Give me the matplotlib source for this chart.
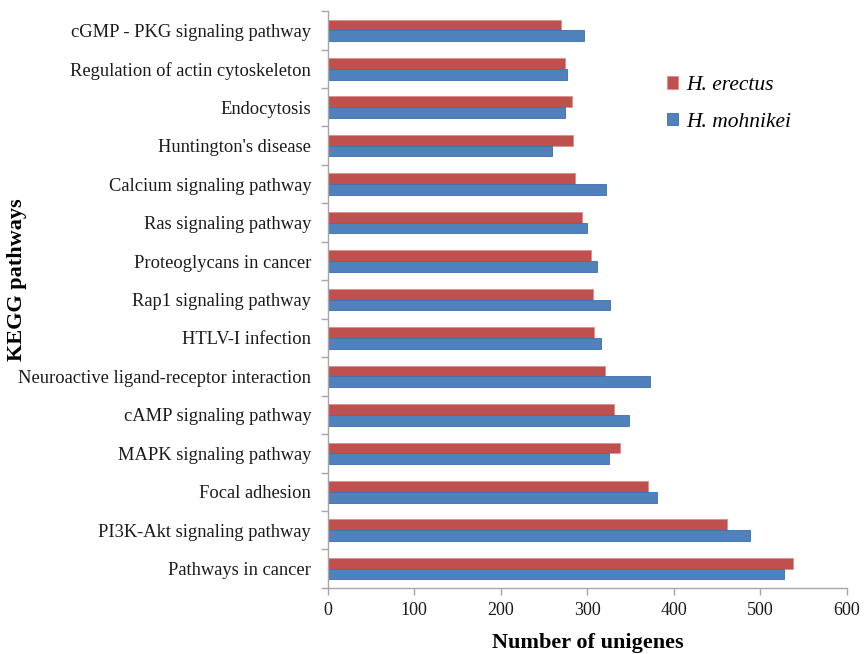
import numpy as np
import matplotlib
matplotlib.use("Agg")
import matplotlib.pyplot as plt
from matplotlib.ticker import FixedLocator

plt.rcParams['font.family'] = ['Liberation Serif', 'DejaVu Serif']

pathways = [
    "cGMP - PKG signaling pathway",
    "Regulation of actin cytoskeleton",
    "Endocytosis",
    "Huntington's disease",
    "Calcium signaling pathway",
    "Ras signaling pathway",
    "Proteoglycans in cancer",
    "Rap1 signaling pathway",
    "HTLV-I infection",
    "Neuroactive ligand-receptor interaction",
    "cAMP signaling pathway",
    "MAPK signaling pathway",
    "Focal adhesion",
    "PI3K-Akt signaling pathway",
    "Pathways in cancer",
]
h_erectus = [270, 274, 282, 284, 286, 294, 304, 306, 308, 320, 331, 338, 370, 462, 538]
h_mohnikei = [296, 276, 274, 259, 321, 300, 311, 326, 316, 372, 348, 325, 380, 488, 527]

x_ticks = [0, 100, 200, 300, 400, 500, 600]

red = "#C0504D"
blue = "#4F81BD"
grey = "#A6A6A6"

fig = plt.figure(figsize=(8.65, 6.54), dpi=100)
ax = fig.add_axes([0.379, 0.101, 0.600, 0.882])

y = np.arange(len(pathways))
h = 0.28
ax.barh(y - h / 2, h_erectus, height=h, color=red, edgecolor="#D9908E",
        linewidth=0.6, label="H. erectus")
ax.barh(y + h / 2, h_mohnikei, height=h, color=blue, edgecolor="#3A6EA8",
        linewidth=0.6, label="H. mohnikei")

ax.set_ylim(len(pathways) - 0.5, -0.5)
ax.set_xlim(0, 600)
ax.set_xticks(x_ticks)
ax.set_yticks(y)
ax.set_yticklabels(pathways, fontsize=13.3, color="#1a1a1a")
ax.yaxis.set_minor_locator(FixedLocator(np.arange(-0.5, len(pathways), 1.0)))
ax.tick_params(axis="y", which="major", length=0, pad=12)
ax.tick_params(axis="y", which="minor", length=5, color=grey, width=1)
ax.tick_params(axis="x", which="major", length=5, color=grey, width=1,
               labelsize=13, labelcolor="#1a1a1a", pad=5)

for side in ("top", "right"):
    ax.spines[side].set_visible(False)
for side in ("left", "bottom"):
    ax.spines[side].set_color(grey)
    ax.spines[side].set_linewidth(1)

ax.set_xlabel("Number of unigenes", fontsize=16, fontweight="bold", labelpad=10)
ax.set_ylabel("KEGG pathways", fontsize=16, fontweight="bold")
ax.yaxis.set_label_coords(-0.58, 0.534)

leg = ax.legend(loc="upper left", bbox_to_anchor=(0.617, 0.921), frameon=False,
                prop={"style": "italic", "size": 15.5}, handlelength=0.5,
                handleheight=0.5, handletextpad=0.37, labelspacing=0.82)

fig.savefig("out.png", dpi=100)
